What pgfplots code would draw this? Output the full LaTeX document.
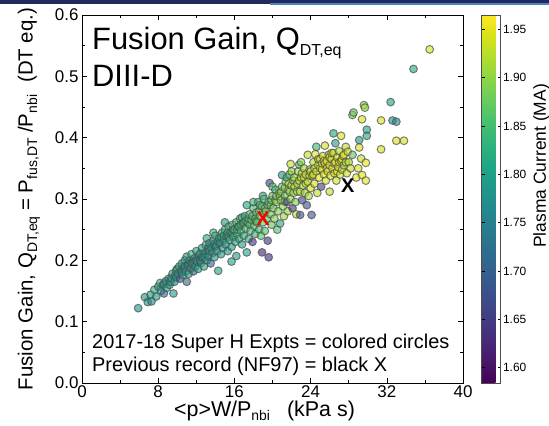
\documentclass[border=0pt]{standalone}
\usepackage{fontspec}
\setmainfont{Liberation Sans}
\usepackage{pgfplots}
\usepackage{pgfplotstable}
\pgfplotsset{compat=1.18}
\newcommand{\sub}[3]{\raisebox{-#2}{\fontsize{#1}{#1}\selectfont #3}}
\pgfplotstableread{
x y c
5.9 0.122 1.78
6.6 0.140 1.79
6.9 0.132 1.78
7.2 0.144 1.80
7.3 0.133 1.77
7.6 0.152 1.83
7.8 0.141 1.79
8.0 0.157 1.79
8.2 0.163 1.84
8.3 0.150 1.78
8.5 0.160 1.80
8.6 0.146 1.72
8.6 0.162 1.78
8.8 0.166 1.79
8.9 0.155 1.80
9.1 0.170 1.78
9.2 0.160 1.79
9.3 0.165 1.79
9.4 0.171 1.81
9.5 0.178 1.80
9.6 0.146 1.80
9.7 0.165 1.78
9.8 0.176 1.79
9.9 0.184 1.82
9.9 0.172 1.79
10.0 0.186 1.80
10.1 0.178 1.78
10.2 0.190 1.83
10.3 0.170 1.70
10.4 0.183 1.79
10.5 0.195 1.80
10.5 0.181 1.78
10.6 0.176 1.78
10.7 0.188 1.77
10.8 0.200 1.81
10.8 0.190 1.78
10.9 0.182 1.79
11.0 0.206 1.80
11.0 0.165 1.72
11.1 0.192 1.78
11.2 0.178 1.80
11.2 0.194 1.79
11.3 0.200 1.79
11.4 0.187 1.78
11.5 0.210 1.84
11.5 0.196 1.79
11.6 0.195 1.80
11.7 0.182 1.71
11.8 0.203 1.78
11.8 0.197 1.80
11.9 0.190 1.79
12.0 0.215 1.82
12.0 0.200 1.79
12.1 0.198 1.78
12.2 0.186 1.80
12.3 0.208 1.79
12.4 0.211 1.81
12.4 0.200 1.78
12.5 0.196 1.77
12.6 0.220 1.80
12.6 0.205 1.78
12.7 0.204 1.79
12.8 0.190 1.82
12.9 0.212 1.78
12.9 0.205 1.79
13.0 0.225 1.83
13.1 0.236 1.82
13.1 0.200 1.79
13.2 0.217 1.78
13.3 0.208 1.80
13.3 0.221 1.80
13.4 0.228 1.79
13.4 0.215 1.80
13.5 0.195 1.71
13.6 0.220 1.80
13.7 0.212 1.78
13.8 0.232 1.81
13.8 0.245 1.83
13.9 0.205 1.79
13.9 0.226 1.81
14.0 0.240 1.84
14.0 0.222 1.79
14.1 0.224 1.79
14.2 0.215 1.80
14.3 0.183 1.81
14.3 0.230 1.80
14.4 0.236 1.80
14.5 0.228 1.78
14.6 0.210 1.79
14.6 0.238 1.81
14.7 0.245 1.82
14.8 0.220 1.80
14.9 0.233 1.81
14.9 0.240 1.82
15.0 0.250 1.83
15.0 0.262 1.80
15.1 0.226 1.80
15.2 0.240 1.82
15.3 0.215 1.79
15.3 0.245 1.82
15.4 0.255 1.84
15.4 0.238 1.81
15.5 0.233 1.83
15.6 0.246 1.81
15.7 0.198 1.81
15.7 0.222 1.80
15.8 0.258 1.85
15.8 0.244 1.83
15.9 0.238 1.82
15.9 0.250 1.84
16.0 0.250 1.83
16.1 0.230 1.81
16.2 0.207 1.80
16.2 0.262 1.84
16.3 0.243 1.85
16.3 0.250 1.84
16.4 0.255 1.83
16.5 0.235 1.82
16.5 0.255 1.85
16.6 0.268 1.86
16.7 0.248 1.84
16.7 0.258 1.85
16.8 0.226 1.80
16.8 0.270 1.83
16.9 0.260 1.85
17.0 0.240 1.83
17.0 0.262 1.84
17.1 0.272 1.82
17.2 0.252 1.86
17.2 0.264 1.85
17.3 0.290 1.81
17.3 0.213 1.81
17.4 0.262 1.84
17.5 0.235 1.83
17.5 0.268 1.86
17.6 0.275 1.86
17.6 0.258 1.86
17.7 0.248 1.85
17.8 0.266 1.87
17.9 0.230 1.64
17.9 0.272 1.86
18.0 0.285 1.85
18.0 0.295 1.84
18.1 0.256 1.86
18.2 0.243 1.84
18.2 0.268 1.86
18.3 0.278 1.87
18.3 0.264 1.87
18.4 0.262 1.86
18.5 0.295 1.83
18.6 0.250 1.85
18.6 0.280 1.87
18.7 0.272 1.88
18.7 0.290 1.86
18.8 0.240 1.86
18.9 0.213 1.62
18.9 0.288 1.86
19.0 0.262 1.87
19.0 0.305 1.82
19.1 0.300 1.85
19.1 0.276 1.88
19.2 0.248 1.86
19.2 0.285 1.88
19.3 0.280 1.88
19.4 0.268 1.87
19.5 0.232 1.64
19.5 0.290 1.87
19.6 0.205 1.63
19.6 0.295 1.86
19.7 0.326 1.66
19.8 0.275 1.88
19.8 0.290 1.87
19.9 0.258 1.87
19.9 0.298 1.88
20.0 0.305 1.87
20.0 0.320 1.86
20.1 0.285 1.88
20.2 0.268 1.89
20.3 0.315 1.84
20.3 0.298 1.88
20.4 0.295 1.90
20.4 0.305 1.89
20.5 0.250 1.86
20.6 0.280 1.89
20.7 0.310 1.88
20.8 0.260 1.82
20.8 0.305 1.89
20.9 0.298 1.90
20.9 0.312 1.90
21.0 0.339 1.79
21.0 0.320 1.87
21.1 0.288 1.89
21.2 0.272 1.91
21.3 0.305 1.88
21.3 0.318 1.90
21.3 0.296 1.89
21.4 0.328 1.89
21.5 0.295 1.65
21.5 0.335 1.83
21.6 0.280 1.90
21.7 0.315 1.91
21.7 0.325 1.91
21.8 0.340 1.88
21.8 0.312 1.90
21.9 0.357 1.93
21.9 0.300 1.90
22.0 0.322 1.92
22.0 0.345 1.90
22.1 0.285 1.64
22.2 0.310 1.91
22.2 0.330 1.92
22.3 0.335 1.90
22.3 0.320 1.91
22.4 0.295 1.89
22.5 0.275 1.93
22.6 0.325 1.92
22.6 0.312 1.91
22.7 0.345 1.91
22.8 0.356 1.83
22.8 0.330 1.92
22.9 0.274 1.68
22.9 0.312 1.92
23.0 0.335 1.93
23.0 0.360 1.90
23.1 0.298 1.66
23.1 0.342 1.93
23.2 0.322 1.93
23.3 0.350 1.92
23.3 0.335 1.93
23.4 0.310 1.91
23.5 0.340 1.94
23.5 0.325 1.92
23.6 0.290 1.68
23.7 0.372 1.93
23.7 0.328 1.93
23.8 0.305 1.92
23.9 0.348 1.91
23.9 0.338 1.93
24.0 0.318 1.94
24.0 0.345 1.93
24.1 0.274 1.69
24.2 0.338 1.93
24.3 0.360 1.92
24.3 0.340 1.94
24.4 0.325 1.94
24.4 0.350 1.94
24.5 0.373 1.95
24.6 0.385 1.84
24.6 0.345 1.93
24.7 0.310 1.93
24.8 0.355 1.94
24.8 0.365 1.94
24.9 0.335 1.95
25.0 0.365 1.93
25.0 0.350 1.94
25.1 0.320 1.66
25.2 0.348 1.94
25.2 0.358 1.95
25.3 0.370 1.94
25.4 0.340 1.95
25.4 0.362 1.95
25.5 0.387 1.94
25.5 0.358 1.93
25.6 0.330 1.94
25.7 0.362 1.95
25.7 0.350 1.94
25.8 0.345 1.94
25.9 0.372 1.93
26.0 0.312 1.93
26.0 0.355 1.95
26.0 0.368 1.94
26.1 0.338 1.94
26.2 0.365 1.94
26.2 0.375 1.94
26.3 0.350 1.95
26.4 0.407 1.81
26.4 0.375 1.93
26.5 0.342 1.94
26.5 0.358 1.95
26.6 0.391 1.80
26.6 0.360 1.95
26.7 0.330 1.94
26.8 0.368 1.94
26.8 0.345 1.95
26.9 0.352 1.95
27.0 0.378 1.92
27.0 0.360 1.94
27.1 0.340 1.94
27.2 0.403 1.94
27.2 0.362 1.95
27.3 0.348 1.93
27.3 0.365 1.94
27.4 0.370 1.94
27.5 0.355 1.92
27.5 0.372 1.95
27.7 0.385 1.93
27.7 0.360 1.93
27.8 0.342 1.94
27.9 0.377 1.94
28.0 0.360 1.92
28.2 0.350 1.93
28.4 0.372 1.87
28.4 0.437 1.89
28.5 0.441 1.88
28.8 0.335 1.95
29.0 0.350 1.94
29.1 0.396 1.78
29.1 0.384 1.94
29.3 0.366 1.93
29.4 0.430 1.94
29.4 0.339 1.95
29.6 0.453 1.90
29.7 0.449 1.91
29.8 0.359 1.95
29.8 0.330 1.95
29.9 0.413 1.80
29.9 0.403 1.81
31.4 0.428 1.94
31.4 0.381 1.94
32.4 0.458 1.80
32.6 0.428 1.77
33.0 0.426 1.76
33.0 0.395 1.94
33.8 0.395 1.94
34.8 0.512 1.81
36.5 0.544 1.94
}\shots
\begin{document}
\begin{tikzpicture}
\useasboundingbox (0,0) rectangle (549bp,426bp);
\fill[fill={rgb,255:red,31;green,42;blue,94}] (0,422bp) rectangle (549bp,426bp);
\fill[fill={rgb,255:red,80;green,130;blue,200}] (270bp,421bp) rectangle (549bp,423bp);
\begin{axis}[
  at={(82bp,43bp)}, anchor=south west,
  scale only axis, width=381bp, height=368bp,
  xmin=0, xmax=40, ymin=0, ymax=0.6,
  xtick={0,8,16,24,32,40},
  ytick={0,0.1,0.2,0.3,0.4,0.5,0.6},
  minor x tick num=1, minor y tick num=1,
  major tick length=5bp, minor tick length=3bp,
  tick style={black, line width=0.6bp},
  axis line style={line width=0.8bp},
  /pgf/number format/assume math mode=true,
  tick label style={font=\fontsize{17}{17}\selectfont},
  yticklabel style={xshift=0bp, /pgf/number format/.cd, fixed, fixed zerofill, precision=1},
  xticklabel style={yshift=1bp},
  xlabel={<p>W/P\sub{14}{4bp}{nbi}\hspace{17bp}(kPa s)},
  xlabel style={font=\fontsize{21.5}{21.5}\selectfont, yshift=3bp, xshift=-8bp},
  ylabel={Fusion Gain, Q\sub{14}{4.5bp}{DT,eq} = P\sub{14}{4.5bp}{fus,DT} /P\sub{14}{4.5bp}{nbi}\hspace{12bp}(DT eq.)},
  ylabel style={font=\fontsize{20.5}{20.5}\selectfont, yshift=8bp},
  colormap/viridis,
  point meta min=1.584, point meta max=1.965,
  colorbar,
  colorbar style={
    at={(parent axis.north east)}, anchor=north west, xshift=10bp,
    scale only axis, width=19bp, height=368bp,
    ytick={1.60,1.65,1.70,1.75,1.80,1.85,1.90,1.95},
    /pgf/number format/assume math mode=true,
    yticklabel style={font=\fontsize{12}{12}\selectfont, xshift=-1bp,
      /pgf/number format/.cd, fixed, fixed zerofill, precision=2},
    major tick length=3bp,
    axis line style={draw=black!70, line width=0.6bp},
    ylabel={Plasma Current (MA)},
    ylabel style={font=\fontsize{17.5}{17.5}\selectfont, at={(ticklabel cs:0.59)}},
  },
]
\addplot[scatter, only marks, mark=*, mark size=3.9bp,
  scatter src=explicit,
  scatter/use mapped color={draw=black!70, fill=mapped color},
  mark options={fill opacity=0.62, draw opacity=0.7, line width=1bp}]
  table[x=x, y=y, meta=c] {\shots};
\addplot[only marks, mark=none, nodes near coords={X},
  nodes near coords style={anchor=center, text=red, font=\fontsize{20}{20}\selectfont\bfseries}]
  coordinates {(19.0,0.268)};
\addplot[only marks, mark=none, nodes near coords={X},
  nodes near coords style={anchor=center, text=black, font=\fontsize{20}{20}\selectfont\bfseries}]
  coordinates {(27.9,0.321)};
\node[anchor=base west, font=\fontsize{31}{31}\selectfont, inner sep=0pt] at (axis cs:1.05,0.543) {Fusion Gain, Q\sub{16}{6bp}{DT,eq}};
\node[anchor=base west, font=\fontsize{31}{31}\selectfont, inner sep=0pt] at (axis cs:1.05,0.483) {DIII-D};
\node[anchor=base west, font=\fontsize{20}{20}\selectfont, inner sep=0pt] at (axis cs:1.05,0.057) {2017-18 Super H Expts = colored circles};
\node[anchor=base west, font=\fontsize{20}{20}\selectfont, inner sep=0pt] at (axis cs:1.05,0.018) {Previous record (NF97) = black X};
\end{axis}
\end{tikzpicture}
\end{document}
